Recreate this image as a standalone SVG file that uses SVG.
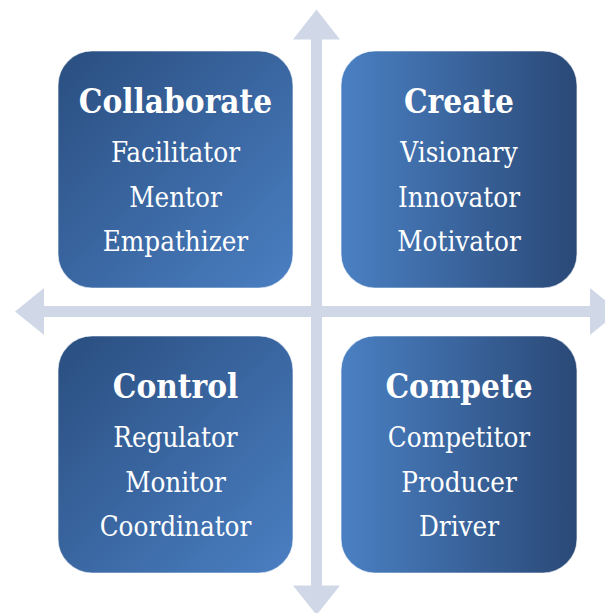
<svg xmlns="http://www.w3.org/2000/svg" width="605" height="613" viewBox="0 0 605 613">
  <defs>
    <linearGradient id="gradDiag" x1="0" y1="0" x2="1" y2="1">
      <stop offset="0" stop-color="#2a4e80"/>
      <stop offset="1" stop-color="#4a7fc2"/>
    </linearGradient>
    <linearGradient id="gradHoriz" x1="0" y1="0" x2="1" y2="0">
      <stop offset="0" stop-color="#4a80c3"/>
      <stop offset="1" stop-color="#2a4977"/>
    </linearGradient>
  </defs>
  <style>
    .box { stroke: #ffffff; stroke-opacity: 0.55; stroke-width: 1.2; }
    .title { font-family: "DejaVu Serif Condensed", "DejaVu Serif", serif; font-stretch: condensed; font-weight: bold; font-size: 33px; fill: #ffffff; text-anchor: middle; }
    .item { font-family: "DejaVu Serif Condensed", "DejaVu Serif", serif; font-stretch: condensed; font-size: 27.5px; fill: #ffffff; text-anchor: middle; }
    .axis { fill: #d0d8e7; }
  </style>

  <rect width="605" height="613" fill="#ffffff"/>

  <!-- axes: two double-headed arrows crossing at the centre -->
  <g id="connectors">
    <polygon class="axis" points="316.5,9.5 340,39.5 322,39.5 322,585.5 340,585.5 316.5,615 293,585.5 311,585.5 311,39.5 293,39.5"/>
    <polygon class="axis" points="15,311.5 44,288 44,306 590,306 590,288 619,311.5 590,335 590,317 44,317 44,335"/>
  </g>

  <g id="collaborate">
    <rect class="box" x="58" y="51" width="235" height="237" rx="34" fill="url(#gradDiag)"/>
    <text class="title" x="175.5" y="113">Collaborate</text>
    <text class="item" x="175.5" y="162">Facilitator</text>
    <text class="item" x="175.5" y="206.5">Mentor</text>
    <text class="item" x="175.5" y="250.5">Empathizer</text>
  </g>

  <g id="create">
    <rect class="box" x="341" y="51" width="236" height="237" rx="34" fill="url(#gradHoriz)"/>
    <text class="title" x="459" y="113">Create</text>
    <text class="item" x="459" y="162">Visionary</text>
    <text class="item" x="459" y="206.5">Innovator</text>
    <text class="item" x="459" y="250.5">Motivator</text>
  </g>

  <g id="control">
    <rect class="box" x="58" y="336" width="235" height="237" rx="34" fill="url(#gradDiag)"/>
    <text class="title" x="175.5" y="398">Control</text>
    <text class="item" x="175.5" y="447">Regulator</text>
    <text class="item" x="175.5" y="491.5">Monitor</text>
    <text class="item" x="175.5" y="535.5">Coordinator</text>
  </g>

  <g id="compete">
    <rect class="box" x="341" y="336" width="236" height="237" rx="34" fill="url(#gradHoriz)"/>
    <text class="title" x="459" y="398">Compete</text>
    <text class="item" x="459" y="447">Competitor</text>
    <text class="item" x="459" y="491.5">Producer</text>
    <text class="item" x="459" y="535.5">Driver</text>
  </g>
</svg>
